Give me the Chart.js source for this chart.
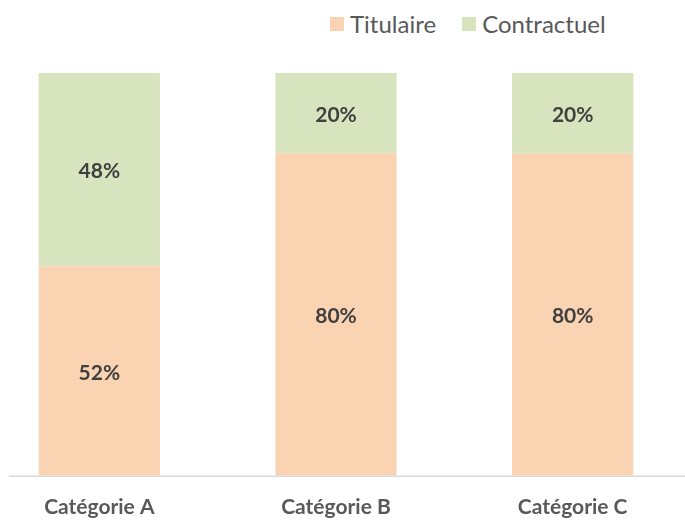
<!DOCTYPE html>
<html><head><meta charset="utf-8">
<script src="https://cdn.jsdelivr.net/npm/chart.js@4/dist/chart.umd.min.js"></script>
<style>
html,body{margin:0;padding:0;background:#fff;overflow:hidden;width:685px;height:520px;position:relative}
#wrap{position:absolute;left:-19px;top:0;width:710px;height:520px}
#legend{position:absolute;top:9px;left:330px;font-family:Lato,sans-serif;font-size:24px;line-height:30px;color:#595959;white-space:nowrap;display:flex;align-items:center}
#legend span.item{display:inline-flex;align-items:center;margin-right:26px}
#legend span.box{display:inline-block;width:14px;height:14px;margin-right:6px}
</style></head>
<body>
<div id="legend"></div>
<div id="wrap"><canvas id="c" width="710" height="520"></canvas></div>
<script>
const categories = ['Catégorie A', 'Catégorie B', 'Catégorie C'];
const titulaire = [52, 80, 80];
const contractuel = [48, 20, 20];
const seriesNames = ['Titulaire', 'Contractuel'];
const colors = ['#FAD3B2', '#D8E4BD'];

const lg = document.getElementById('legend');
seriesNames.forEach((n, i) => {
  const it = document.createElement('span'); it.className = 'item';
  const b = document.createElement('span'); b.className = 'box'; b.style.background = colors[i];
  it.appendChild(b); it.appendChild(document.createTextNode(n)); lg.appendChild(it);
});

const labelPlugin = {
  id: 'vals',
  afterDatasetsDraw(chart) {
    const ctx = chart.ctx;
    ctx.save();
    ctx.font = 'bold 21px Lato, sans-serif';
    ctx.fillStyle = '#404040';
    ctx.textAlign = 'center';
    ctx.textBaseline = 'middle';
    chart.data.datasets.forEach((ds, i) => {
      chart.getDatasetMeta(i).data.forEach((bar, j) => {
        const p = bar.getCenterPoint();
        ctx.fillText(ds.data[j] + '%', p.x, p.y + 2);
      });
    });
    const a = chart.chartArea;
    ctx.strokeStyle = '#d9d9d9';
    ctx.lineWidth = 1.5;
    ctx.beginPath();
    ctx.moveTo(a.left + 28, a.bottom + 0.5);
    ctx.lineTo(a.right, a.bottom + 0.5);
    ctx.stroke();
    ctx.restore();
  }
};

new Chart(document.getElementById('c'), {
  type: 'bar',
  data: {
    labels: categories,
    datasets: [
      { label: seriesNames[0], data: titulaire, backgroundColor: colors[0], barPercentage: 0.512, categoryPercentage: 1 },
      { label: seriesNames[1], data: contractuel, backgroundColor: colors[1], barPercentage: 0.512, categoryPercentage: 1 }
    ]
  },
  options: {
    responsive: false,
    animation: false,
    layout: { padding: { top: 73, bottom: -19, left: 0, right: 0 } },
    plugins: { legend: { display: false }, tooltip: { enabled: false } },
    scales: {
      x: {
        stacked: true,
        grid: { display: false, drawTicks: false },
        border: { display: false },
        ticks: { color: '#595959', font: { family: 'Lato, sans-serif', size: 21, weight: 'bold' }, padding: 19 }
      },
      y: { stacked: true, display: false, min: 0, max: 100 }
    }
  },
  plugins: [labelPlugin]
});
</script>
</body></html>
